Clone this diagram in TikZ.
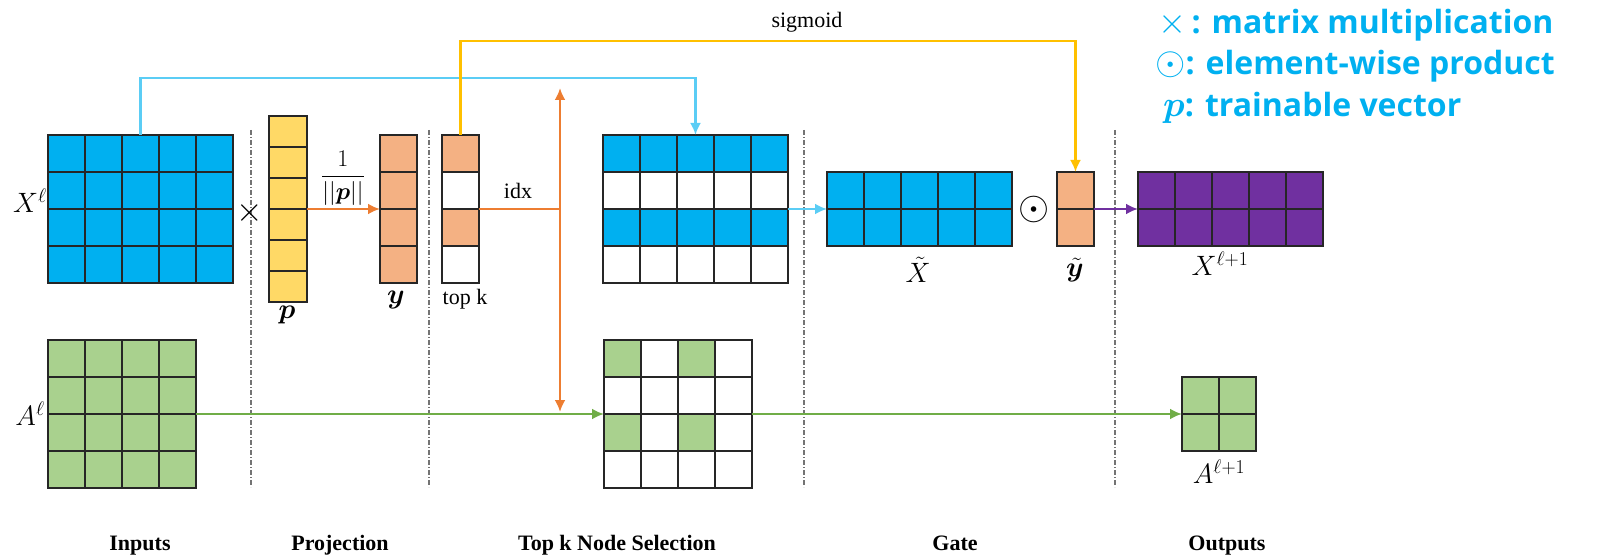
\RequirePackage{fix-cm}
\documentclass[tikz,border=0pt]{standalone}
\usepackage{amsmath,bm}
\usepackage{fontspec}
\setmainfont{Liberation Serif}
\newfontfamily\legfont{Open Sans}
\usetikzlibrary{arrows.meta}
\definecolor{cblue}{HTML}{00B0F0}
\definecolor{cyellow}{HTML}{FFD966}
\definecolor{corange}{HTML}{F4B183}
\definecolor{cgreen}{HTML}{A9D18E}
\definecolor{cpurple}{HTML}{7030A0}
\definecolor{lcyan}{RGB}{91,205,245}
\definecolor{lyellow}{HTML}{FFC000}
\definecolor{lorange}{HTML}{ED7D31}
\definecolor{lgreen}{HTML}{70AD47}
\definecolor{lpurple}{HTML}{7030A0}
\tikzset{
  cellst/.style={draw=black!85, line width=2pt},
  conn/.style={line width=2.5pt, -{Latex[length=12pt,width=11pt]}},
  divider/.style={draw=black!55, line width=1.2pt, dash pattern=on 5pt off 2pt on 1pt off 2pt},
  lbl/.style={inner sep=0, font=\fontsize{22}{26}\selectfont},
  mlbl/.style={inner sep=0, font=\fontsize{28}{30}\selectfont},
  sec/.style={inner sep=0, anchor=base, font=\fontsize{22}{26}\selectfont\bfseries},
  leg/.style={inner sep=0, anchor=base west, text=cblue, font=\legfont\bfseries\fontsize{32}{36}\selectfont},
}
\newcommand{\drawmat}[8]{%
  \foreach \ii in {1,...,#4}{\foreach \jj in {1,...,#5}{%
    \draw[cellst, fill=#8] ({#2+(\ii-1)*#6},{#3+(\jj-1)*#7}) rectangle ++(#6,#7);}}%
  \node[inner sep=0, outer sep=0, minimum width={#4*#6pt}, minimum height={#5*#7pt}, anchor=north west] (#1) at (#2,#3) {};
}
\newcommand{\paintcell}[5]{% x0,y0,col,row,color (37 cells)
  \draw[cellst, fill=#5] ({#1+(#3-1)*37},{#2+(#4-1)*37}) rectangle ++(37,37);
}
\begin{document}
\begin{tikzpicture}[x=1pt,y=-1pt]
\useasboundingbox (0,0) rectangle (1601,556);

% dividers
\foreach \dx/\nm in {251/d1,429/d2,804/d3,1115/d4}{
  \draw[divider] (\dx,130) coordinate (\nm top) -- (\dx,487) coordinate (\nm bot);
}

% matrices
\drawmat{X}{48}{135}{5}{4}{37}{37}{cblue}
\drawmat{P}{269}{116}{1}{6}{38}{31}{cyellow}
\drawmat{Y}{380}{135}{1}{4}{37}{37}{corange}
\drawmat{TK}{442}{135}{1}{4}{37}{37}{white}
\paintcell{442}{135}{1}{1}{corange}
\paintcell{442}{135}{1}{3}{corange}
\drawmat{XS}{603}{135}{5}{4}{37}{37}{white}
\foreach \c in {1,...,5}{\paintcell{603}{135}{\c}{1}{cblue}\paintcell{603}{135}{\c}{3}{cblue}}
\drawmat{XT}{827}{172}{5}{2}{37}{37}{cblue}
\drawmat{YT}{1057}{172}{1}{2}{37}{37}{corange}
\drawmat{XN}{1138}{172}{5}{2}{37}{37}{cpurple}
\drawmat{A}{48}{340}{4}{4}{37}{37}{cgreen}
\drawmat{AS}{604}{340}{4}{4}{37}{37}{white}
\paintcell{604}{340}{1}{1}{cgreen}
\paintcell{604}{340}{3}{1}{cgreen}
\paintcell{604}{340}{1}{3}{cgreen}
\paintcell{604}{340}{3}{3}{cgreen}
\drawmat{AN}{1182}{377}{2}{2}{37}{37}{cgreen}

% operators
\node[inner sep=0, font=\fontsize{34}{34}\selectfont] (times) at (250,213) {$\times$};
\node[inner sep=0, font=\fontsize{40}{40}\selectfont] (odot) at (1034,209) {$\odot$};

% labels
\node[mlbl] (Xl) at (30,201) {$X^{\ell}$};
\node[mlbl] (Al) at (30,414) {$A^{\ell}$};
\node[mlbl] (pl) at (287,315) {$\bm{p}$};
\node[mlbl] (yl) at (396,300) {$\bm{y}$};
\node[inner sep=0, font=\fontsize{24}{28}\selectfont] (frac) at (343,178) {$\dfrac{1}{||\bm{p}||}$};
\node[lbl] (topk) at (465,299) {top k};
\node[lbl, anchor=base] (idx) at (518,199) {idx};
\node[lbl, anchor=base] (sig) at (807,28) {sigmoid};
\node[mlbl] (XTl) at (918,270) {$\tilde{X}$};
\node[mlbl] (YTl) at (1075,270) {$\tilde{\bm{y}}$};
\node[mlbl] (XNl) at (1220,264) {$X^{\ell+1}$};
\node[mlbl] (ANl) at (1219,472) {$A^{\ell+1}$};

% section titles
\node[sec] (s1) at (140,550) {Inputs};
\node[sec] (s2) at (340,550) {Projection};
\node[sec] (s3) at (617,550) {Top k Node Selection};
\node[sec] (s4) at (955,550) {Gate};
\node[sec] (s5) at (1227,550) {Outputs};

% legend
\node[leg] (leg1) at (1158,34) {{\mdseries\fontsize{36}{36}\selectfont$\times$}\,: matrix multiplication};
\node[leg] (leg2) at (1155,75) {{\fontsize{39}{36}\selectfont$\odot$}: element-wise product};
\node[leg] (leg3) at (1163,117) {{\fontsize{36}{36}\selectfont$\bm{p}$}: trainable vector};

% connectors
\coordinate (otop) at (560,88);
\coordinate (obot) at (560,412);
\coordinate (ojoin) at (560,209);
\draw[conn, lcyan] (X.north) |- (400,78) -| (XS.north);
\draw[conn, lyellow] (TK.north) |- (700,41) -| (YT.north);
\draw[conn, lorange] (P.east) -- (Y.west);
\draw[line width=2.5pt, lorange] (TK.east) -- (ojoin);
\draw[line width=2.5pt, lorange, {Latex[length=12pt,width=11pt]}-{Latex[length=12pt,width=11pt]}] (otop) -- (obot);
\draw[conn, lcyan] (XS.east) -- (XT.west);
\draw[conn, lpurple] (YT.east) -- (XN.west);
\draw[conn, lgreen] (A.east) -- (AS.west);
\draw[conn, lgreen] (AS.east) -- (AN.west);
\end{tikzpicture}
\end{document}
